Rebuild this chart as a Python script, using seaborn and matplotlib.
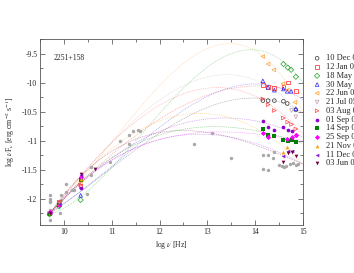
import numpy as np
import pandas as pd
import seaborn as sns
import matplotlib.pyplot as plt

# epochs, colours and markers of the legend
epochs = ['10 Dec 04', '12 Jan 05', '18 May 05', '30 May 05', '22 Jun 05', '21 Jul 05',
          '03 Aug 05', '01 Sep 05', '14 Sep 05', '25 Sep 05', '21 Nov 05', '11 Dec 05',
          '03 Jun 06']
colors = ['#333333', '#ff2020', '#20a020', '#2020ff', '#ffa030', '#c0a0a8',
          '#ff4040', '#9000d0', '#008000', '#ff00ff', '#ffa000', '#8020d0', '#700040']
markers = ['o', 's', 'D', '^', '<', 'v', '>', 'o', 's', 'D', '^', '<', 'v']
filled = [False] * 7 + [True] * 6

# radio points (log nu, log nuFnu) per epoch
radio_x = [[9.70, 9.90], [9.70, 9.90, 10.35], [9.70, 9.90, 10.35], [9.70, 9.90, 10.35],
           [9.70, 9.90, 10.35], [9.70, 9.90], [9.70, 9.90, 10.35], [9.70, 9.90, 10.35],
           [9.70, 9.90, 10.35], [9.70, 9.90, 10.35], [9.70, 9.90, 10.35], [9.70, 9.90, 10.35],
           [9.70, 10.35, 10.64]]
radio_y = [[-12.26, -12.08], [-12.25, -12.06, -11.78], [-12.27, -12.13, -12.02],
           [-12.24, -12.10, -11.94], [-12.25, -12.08, -11.70], [-12.25, -12.09],
           [-12.26, -12.07, -11.76], [-12.25, -12.09, -11.82], [-12.26, -12.11, -11.67],
           [-12.23, -12.10, -11.62], [-12.25, -12.08, -11.66], [-12.24, -12.09, -11.59],
           [-12.25, -11.57, -11.48]]

# optical points per epoch
opt_x = [[14.16, 14.27, 14.40, 14.59, 14.67, 14.85],
         [14.16, 14.27, 14.40, 14.59, 14.68, 14.85],
         [14.59, 14.68, 14.75, 14.85],
         [14.16, 14.27, 14.40, 14.59, 14.67, 14.75, 14.85],
         [14.16, 14.27, 14.39, 14.58, 14.67, 14.83],
         [14.76, 14.85],
         [14.16, 14.27, 14.40, 14.59, 14.68, 14.76, 14.85],
         [14.16, 14.27, 14.40, 14.59, 14.68, 14.76, 14.85],
         [14.16, 14.27, 14.40, 14.59, 14.68, 14.76, 14.85],
         [14.16, 14.27, 14.67, 14.76, 14.85],
         [14.58, 14.67],
         [14.59, 14.68, 14.76],
         [14.59, 14.68, 14.76, 14.85]]
opt_y = [[-10.31, -10.31, -10.31, -10.32, -10.36, -10.47],
         [-10.04, -10.07, -10.09, -10.07, -10.00, -10.14],
         [-9.68, -9.74, -9.78, -9.90],
         [-9.97, -10.08, -10.13, -10.11, -10.15, -10.15, -10.45],
         [-9.55, -9.68, -9.78, -10.02, -10.13, -10.34],
         [-10.48, -10.59],
         [-10.28, -10.38, -10.48, -10.61, -10.68, -10.72, -10.80],
         [-10.66, -10.77, -10.81, -10.77, -10.81, -10.84, -10.90],
         [-10.80, -10.90, -10.92, -10.98, -11.00, -10.99, -11.02],
         [-10.86, -10.93, -10.97, -10.93, -10.91],
         [-11.20, -11.10],
         [-11.26, -11.17, -11.17],
         [-11.37, -11.22, -11.19, -11.26]]

# points
curve_x = [9.7, 10.5, 11.5, 12.5, 13.5, 14.5, 15.0]
curve_y = [[-12.25, -11.80, -11.15, -10.60, -10.33, -10.32, -10.52],
           [-12.25, -11.60, -10.90, -10.40, -10.12, -10.05, -10.22],
           [-12.25, -11.90, -11.00, -10.05, -9.52, -9.62, -9.98],
           [-12.25, -11.75, -11.10, -10.50, -10.08, -10.05, -10.32],
           [-12.25, -11.55, -10.50, -9.68, -9.33, -9.82, -10.50],
           [-12.25, -11.50, -10.60, -10.05, -9.90, -10.15, -10.60],
           [-12.25, -11.50, -10.65, -10.18, -10.12, -10.50, -10.88],
           [-12.25, -11.65, -11.00, -10.72, -10.62, -10.75, -10.95],
           [-12.25, -11.60, -11.05, -10.82, -10.76, -10.92, -11.05],
           [-12.25, -11.62, -11.12, -10.90, -10.85, -10.93, -11.00],
           [-12.25, -11.55, -10.82, -10.55, -10.62, -11.05, -11.40],
           [-12.25, -11.65, -11.10, -10.90, -10.95, -11.20, -11.40],
           [-12.25, -11.50, -10.95, -10.85, -10.95, -11.20, -11.42]]

# archival data (grey)
arch_x = [9.71, 9.71, 9.71, 9.71, 9.71, 9.71, 9.94, 9.94, 9.92, 10.04, 10.04, 10.17, 10.22,
          10.49, 10.56, 10.56, 10.97, 11.18, 11.37, 11.37, 11.44, 11.54, 11.59, 12.71, 13.09,
          13.49, 14.16, 14.26, 14.40, 14.37, 14.16, 14.26, 14.50, 14.55, 14.60, 14.65,
          14.72, 14.78, 14.85, 14.90]
arch_y = [-11.94, -12.00, -12.03, -12.06, -12.20, -12.37, -11.94, -12.02, -12.24, -11.75,
          -11.89, -11.85, -11.85, -11.91, -11.46, -11.59, -11.36, -11.00, -10.91, -11.06,
          -10.84, -10.81, -10.83, -11.06, -10.87, -11.30, -11.25, -11.25, -11.20, -11.30,
          -11.48, -11.50, -11.42, -11.43, -11.45, -11.44, -11.40, -11.38, -11.42, -11.40]

sns.set_style("ticks")
plt.rcParams['font.family'] = ['Liberation Serif', 'DejaVu Serif']
plt.rcParams['mathtext.fontset'] = 'stix'
plt.rcParams['axes.unicode_minus'] = False

fig = plt.figure(figsize=(3.54, 2.73), dpi=100)
ax = fig.add_axes([0.113, 0.176, 0.743, 0.681])

# fitted curves
for i in range(len(epochs)):
    sns.regplot(x=curve_x, y=curve_y[i], order=3, ci=None, scatter=False, truncate=True,
                line_kws=dict(color=colors[i], lw=0.5, ls=(0, (1.5, 1.2)), alpha=0.4), ax=ax)

sns.scatterplot(x=arch_x, y=arch_y, color='#a8a8a8', s=6, linewidth=0, ax=ax, zorder=3)

for i in range(len(epochs)):
    xs = radio_x[i] + opt_x[i]
    ys = radio_y[i] + opt_y[i]
    if filled[i]:
        kw = dict(color=colors[i], linewidth=0)
    else:
        kw = dict(facecolor='none', edgecolor=colors[i], linewidth=0.5)
    sns.scatterplot(x=xs, y=ys, marker=markers[i], s=7, ax=ax, zorder=4, label=epochs[i], **kw)

ax.set_xlim(9.52, 15)
ax.set_ylim(-12.45, -9.25)
ax.set_xticks([10, 11, 12, 13, 14, 15])
ax.set_xticks(np.arange(9.5, 15.01, 0.5), minor=True)
ax.set_yticks([-12, -11.5, -11, -10.5, -10, -9.5])
ax.set_yticklabels(['-12', '-11.5', '-11', '-10.5', '-10', '-9.5'])
ax.set_yticks(np.arange(-12.25, -9.2, 0.25), minor=True)
ax.tick_params(which='both', direction='in', top=True, right=True, labelsize=5.5,
               width=0.5, color='#444444', pad=2)
ax.tick_params(which='major', length=3.5)
ax.tick_params(which='minor', length=2)
for sp in ax.spines.values():
    sp.set_linewidth(0.6)
    sp.set_color('#555555')

ax.set_xlabel(r'log $\nu$ [Hz]', fontsize=5.5, labelpad=2)
ax.set_ylabel(r'log $\nu$F$_\nu$ [erg cm$^{-2}$ s$^{-1}$]', fontsize=5.5, labelpad=3)
ax.text(9.79, -9.57, '2251+158', fontsize=5.5, va='center', ha='left')

# the legend runs off the right edge of the figure, as in the original
ax.legend(loc='upper left', bbox_to_anchor=(1.025, 0.935), frameon=False, fontsize=6,
          labelspacing=0.09, handletextpad=0.6, borderaxespad=0, handlelength=1.0,
          markerscale=1.0)

fig.savefig('out.png', dpi=100)
